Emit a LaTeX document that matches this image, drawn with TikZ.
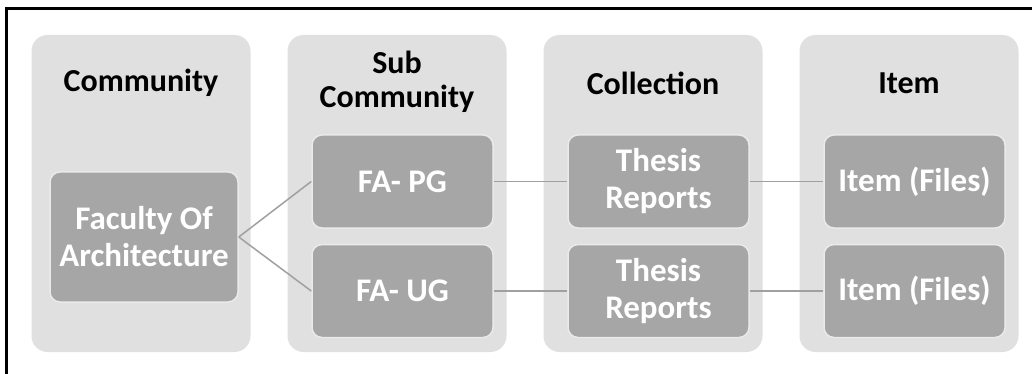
\documentclass[tikz,border=0pt]{standalone}
\usepackage{fontspec}
\setmainfont{Carlito}
\definecolor{colbg}{RGB}{224,224,224}
\definecolor{boxbg}{RGB}{166,166,166}
\definecolor{boxline}{RGB}{234,234,234}
\definecolor{linkgray}{RGB}{160,160,160}

\begin{document}
\begin{tikzpicture}[x=1pt,y=-1pt,
    column/.style={fill=colbg, rounded corners=16pt, minimum width=219pt,
        minimum height=317pt, inner sep=0pt},
    heading/.style={font=\bfseries\fontsize{32}{34}\selectfont, align=center},
    entry/.style={fill=boxbg, draw=boxline, line width=1.5pt, rounded corners=10pt,
        text=white, font=\bfseries\fontsize{33}{37}\selectfont, align=center,
        minimum width=181pt, minimum height=93pt, inner sep=0pt},
    link/.style={draw=linkgray, line width=1.5pt}]
            \useasboundingbox (0,0) rectangle (1032,374);
            % frame, only top and left edge
            \draw[line width=3pt] (1032,9) -- (6,9) -- (6,374);
            \foreach \x/\n in {141/comm,397/sub,653/coll,909/item} {
                \node[column] (col\n) at (\x,193.5) {};
            }
            \node[heading] (hcomm) at (141,83) {Community};
            \node[heading] (hsub) at (397,82) {Sub\\Community};
            \node[heading] (hcoll) at (653,83) {Collection};
            \node[heading] (hitem) at (909,83) {Item};
            % entries
            \node[entry, minimum width=188pt, minimum height=130pt] (faculty) at (144,237) {Faculty Of\\Architecture};
            \node[entry] (fapg) at (402.5,181.5) {FA- PG};
            \node[entry] (faug) at (402.5,291) {FA- UG};
            \node[entry] (thesispg) at (658.5,181.5) {Thesis\\Reports};
            \node[entry] (thesisug) at (658.5,291) {Thesis\\Reports};
            \node[entry] (itempg) at (914.5,181.5) {Item (Files)};
            \node[entry] (itemug) at (914.5,291) {Item (Files)};
            \draw[link] (faculty.east) -- (fapg.west);
            \draw[link] (faculty.east) -- (faug.west);
            \draw[link] (fapg.east) -- (thesispg.west);
            \draw[link] (faug.east) -- (thesisug.west);
            \draw[link] (thesispg.east) -- (itempg.west);
            \draw[link] (thesisug.east) -- (itemug.west);
        \end{tikzpicture}
\end{document}
